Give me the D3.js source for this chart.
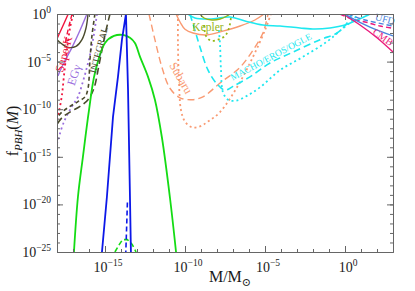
<!DOCTYPE html>
<html>
<head>
<meta charset="utf-8">
<script src="https://d3js.org/d3.v7.min.js"></script>
<style>
body {margin:0; background:#fff;}
svg text {font-family:"Liberation Serif","DejaVu Serif",serif;}
</style>
</head>
<body>
<svg id="chart" width="415" height="291"></svg>
<script>
// all values are log10 exponents: [log10(M/Msun), log10(f_PBH)]
var xTicks = [-15, -10, -5, 0];
var yTicks = [0, -5, -10, -15, -20, -25];

var greenSolid = [[-16.94,-25],[-16.69,-19.2],[-16.38,-15],[-16,-10.1],[-15.63,-6.2],[-15,-3.05],[-14.44,-2.3],[-13.88,-2.2],[-13.44,-2.5],[-13.13,-3.05],[-12.81,-4.5],[-12.31,-6.6],[-11.88,-9],[-11.44,-13],[-10.94,-19.3],[-10.56,-25]];
var greenDashed = [[-14.38,-25],[-14.1,-24.2],[-13.9,-23.7],[-13.6,-23.7],[-13.3,-24.2],[-13.06,-25]];
var blueSolid = [[-15.19,-25],[-14.88,-19.2],[-14.5,-10.8],[-14.19,-6.6],[-13.94,-2.7],[-13.69,0],[-13.56,-8],[-13.44,-19.2],[-13.38,-25]];
var blueDashed = [[-13.6,-19.8],[-13.65,-22.5],[-13.7,-25]];

var superkSolid = [[-17.3,0],[-17.7,-1.5],[-18,-2.6]];
var superkDashed = [[-17.06,0],[-17.19,-0.84],[-17.38,-2.2],[-17.5,-3.3]];
var superkDotted = [[-17,0],[-17.19,-1.5],[-17.38,-3.8],[-17.56,-6.4],[-17.69,-8.5],[-17.88,-10.3],[-18,-11.1]];
var egySolid = [[-16.13,0],[-16.56,-1.7],[-17.06,-3.5],[-17.56,-5.1],[-17.94,-6.5]];
var egyDotted = [[-15.5,0],[-15.75,-2.7],[-15.94,-4.3],[-16.13,-5.6],[-16.38,-7.1],[-16.69,-8.7],[-17.06,-9.7],[-17.56,-11.3],[-18,-13.6]];
var integralSolid = [[-16.06,0],[-16.19,-1.5],[-16.44,-2.7],[-16.81,-3.4],[-17.31,-3.5],[-17.69,-3.15],[-18,-2.7]];
var integralDashA = [[-15.63,0],[-15.81,-2.2],[-15.94,-4.8],[-16.06,-7.8],[-16.25,-8.7],[-16.69,-9.2],[-17.19,-9.7],[-17.69,-10.3],[-18,-10.9]];
var integralDashB = [[-14.69,0],[-15,-2.2],[-15.38,-5.4],[-15.69,-7.8],[-16.06,-9],[-16.56,-9.7],[-17.19,-10.3],[-17.69,-10.9],[-18,-11.6]];

var subaruSolid = [[-10.56,0],[-10.31,-0.84],[-10,-1.6],[-9.5,-2],[-8.63,-2.2],[-7.63,-1.8],[-6.56,-1.26],[-5.63,-0.63],[-5.06,0]];
var subaruDashed = [[-12.25,0],[-11.88,-2.7],[-11.44,-5.6],[-10.94,-7.8],[-10.31,-8.8],[-9.56,-9],[-8.88,-8.7],[-7.81,-7.25],[-6.56,-5.6],[-5.75,-3.8],[-5.13,-2],[-4.81,0]];
var subaruDotted = [[-10.44,0],[-10.44,-3.05],[-10.38,-6.9],[-10.25,-10.1],[-10,-11.3],[-9.56,-11.9],[-9.06,-11.8],[-8.56,-11.3],[-7.81,-10.3],[-6.75,-7.7],[-5.75,-4.5],[-5,-1.7],[-4.63,0]];

var machoSolid = [[-9.81,0],[-9.38,-0.42],[-8.44,-0.53],[-7.19,-0.32],[-6.25,-0.74],[-5.13,-1.16],[-4.06,-1.26],[-2.81,-1.47],[-1.88,-1.58],[-0.94,-1.47],[0,-1.16],[0.75,-0.63],[1.31,-0.21],[1.56,0]];
var machoDashed = [[-9.69,0],[-9.38,-1.7],[-9.06,-3.5],[-8.56,-5.9],[-8,-7.35],[-7.5,-8],[-7,-7.6],[-5.94,-6.6],[-4.69,-5.15],[-3.25,-4],[-1.56,-2.7],[-0.5,-2],[0.13,-0.95],[0.44,0]];
var machoDotted = [[-7.88,-1.7],[-7.81,-3.26],[-7.75,-5.9],[-7.63,-8.2],[-7.31,-9],[-6.81,-9.1],[-6.13,-8.6],[-5.31,-7.7],[-4.06,-5.9],[-2.63,-4.5],[-1.13,-2.9],[-0.13,-1.5],[0.5,-0.63],[0.81,0]];

var keplerSolid = [[-9.06,0],[-8.81,-0.42],[-8.31,-0.63],[-7.81,-0.53],[-7.38,-0.21],[-7.19,0]];
var keplerDotted = [[-8.81,-1.16],[-8.69,-2.3],[-8.38,-2.8],[-7.94,-2.7],[-7.5,-2.3],[-7.25,-1.47],[-7.13,-0.42]];

var cmbSolid = [[-0.13,0],[0.94,-1.16],[2,-2.5],[3,-4]];
var cmbDashed = [[-0.31,0],[0.44,-0.53],[1.25,-0.84],[2.19,-1.26],[3,-1.5]];
var ufdSolid = [[0,0],[0.31,-0.32],[1.56,-1.37],[3,-2.3]];
var ufdDashed = [[0.19,0],[1.25,-0.63],[3,-1.26]];

var svg = d3.select('#chart');
var mLeft = 57, mRight = 393, mTop = 14, mBottom = 252;

var x = d3.scaleLinear().domain([-18, 3]).range([mLeft, mRight]);
var y = d3.scaleLinear().domain([-25, 0]).range([mBottom, mTop]);

svg.append('clipPath').attr('id', 'clip')
  .append('rect').attr('x', mLeft).attr('y', mTop)
  .attr('width', mRight - mLeft).attr('height', mBottom - mTop);

var plot = svg.append('g').attr('clip-path', 'url(#clip)');

var line = d3.line().x(function(d) { return x(d[0]); }).y(function(d) { return y(d[1]); })
  .curve(d3.curveCatmullRom.alpha(0.5));
var sharp = d3.line().x(function(d) { return x(d[0]); }).y(function(d) { return y(d[1]); });

var DASH = '7,4', DOT = '2,3', SOLID = null;

function curve(data, color, dash, width, gen) {
  plot.append('path')
    .attr('d', (gen || line)(data))
    .attr('fill', 'none')
    .attr('stroke', color)
    .attr('stroke-width', width || 1.4)
    .attr('stroke-dasharray', dash);
}

var red = '#f0143c', purple = '#9a6fde', olive = '#4a4a2c', salmon = '#f99a72',
    cyan = '#1ee8f0', kepler = '#95b515', magenta = '#ea1a7c', ufd = '#4a86dd';

curve(superkSolid, red, SOLID);
curve(superkDashed, red, '5,3');
curve(superkDotted, red, DOT, 1.8);
curve(egySolid, purple, SOLID);
curve(egyDotted, purple, DOT, 1.8);
curve(integralSolid, olive, SOLID);
curve(integralDashA, olive, '4,3', 1.6);
curve(integralDashB, olive, DASH, 1.6);

curve(subaruSolid, salmon, SOLID);
curve(subaruDashed, salmon, DASH);
curve(subaruDotted, salmon, DOT, 1.8);
curve(machoSolid, cyan, SOLID, 1.6);
curve(machoDashed, cyan, DASH, 1.6);
curve(machoDotted, cyan, DOT, 1.8);
curve(keplerSolid, kepler, SOLID);
curve(keplerDotted, kepler, DOT, 1.8);
curve(cmbSolid, magenta, SOLID);
curve(cmbDashed, magenta, '5,3');
curve(ufdSolid, ufd, SOLID);
curve(ufdDashed, ufd, '5,3');

curve(greenSolid, '#14dc14', SOLID, 1.8);
curve(greenDashed, '#14dc14', '5,3', 1.6, sharp);
curve(blueSolid, '#0c18e8', SOLID, 1.8, sharp);
curve(blueDashed, '#0c18e8', '5,3', 1.6, sharp);

// labels
function label(txt, cx, cy, rot, color, size) {
  svg.append('text')
    .attr('transform', 'translate(' + cx + ',' + cy + ') rotate(' + rot + ')')
    .attr('text-anchor', 'middle').attr('dominant-baseline', 'central')
    .attr('fill', color).attr('font-size', size)
    .text(txt);
}
label('SuperK', 64, 54, -75, red, 12);
label('EGγ', 74, 75, -72, purple, 12);
label('INTEGRAL', 99, 50, -75, olive, 9.5);
label('Kepler', 208, 27, 0, kepler, 11.5);
label('Subaru', 181, 78, 60, salmon, 12);
label('MACHO/EROS/OGLE', 271, 57, -28, cyan, 9.5);
label('UFD', 385, 19, 15, ufd, 10);
label('CMB', 383, 37, 35, magenta, 10);

// frame and ticks
var axisColor = '#666';
function styleAxis(g) {
  g.select('.domain').attr('stroke', axisColor);
  g.selectAll('.tick line').attr('stroke', axisColor);
  g.selectAll('.tick text').remove();
}
var xMinor = d3.range(-18, 4), yMinor = d3.range(-25, 1);
var xMajor = [-15, -10, -5, 0], yMajor = [-25, -20, -15, -10, -5, 0];

[[d3.axisBottom, mBottom], [d3.axisTop, mTop]].forEach(function(a) {
  svg.append('g').attr('transform', 'translate(0,' + a[1] + ')')
    .call(a[0](x).tickValues(xMinor).tickSize(-3).tickSizeOuter(0)).call(styleAxis);
  svg.append('g').attr('transform', 'translate(0,' + a[1] + ')')
    .call(a[0](x).tickValues(xMajor).tickSize(-6).tickSizeOuter(0)).call(styleAxis);
});
[[d3.axisLeft, mLeft], [d3.axisRight, mRight]].forEach(function(a) {
  svg.append('g').attr('transform', 'translate(' + a[1] + ',0)')
    .call(a[0](y).tickValues(yMinor).tickSize(-3).tickSizeOuter(0)).call(styleAxis);
  svg.append('g').attr('transform', 'translate(' + a[1] + ',0)')
    .call(a[0](y).tickValues(yMajor).tickSize(-6).tickSizeOuter(0)).call(styleAxis);
});

function powLabel(sel, e) {
  sel.append('tspan').text('10');
  sel.append('tspan').attr('dy', -6).attr('font-size', 9.5)
    .text(e === 0 ? '0' : '\u2212' + Math.abs(e));
}
xTicks.forEach(function(e) {
  var t = svg.append('text').attr('x', x(e) + 3).attr('y', 272)
    .attr('text-anchor', 'middle').attr('font-size', 14).attr('fill', '#1a1a1a');
  powLabel(t, e);
});
yTicks.forEach(function(e) {
  var t = svg.append('text').attr('x', 51).attr('y', y(e) + 5)
    .attr('text-anchor', 'end').attr('font-size', 14).attr('fill', '#1a1a1a');
  powLabel(t, e);
});

// axis titles
var xl = svg.append('text').attr('x', 230).attr('y', 282)
  .attr('text-anchor', 'middle').attr('font-size', 16).attr('fill', '#1a1a1a');
xl.append('tspan').text('M/M');
xl.append('tspan').attr('dy', 4).attr('font-size', 11).text('\u2299');

var yl = svg.append('text').attr('transform', 'translate(18,131) rotate(-90)')
  .attr('text-anchor', 'middle').attr('font-size', 16).attr('fill', '#1a1a1a');
yl.append('tspan').text('f');
yl.append('tspan').attr('dy', 4).attr('font-size', 11).attr('font-style', 'italic').text('PBH');
yl.append('tspan').attr('dy', -4).text('(');
yl.append('tspan').attr('font-style', 'italic').text('M');
yl.append('tspan').text(')');
</script>
</body>
</html>
